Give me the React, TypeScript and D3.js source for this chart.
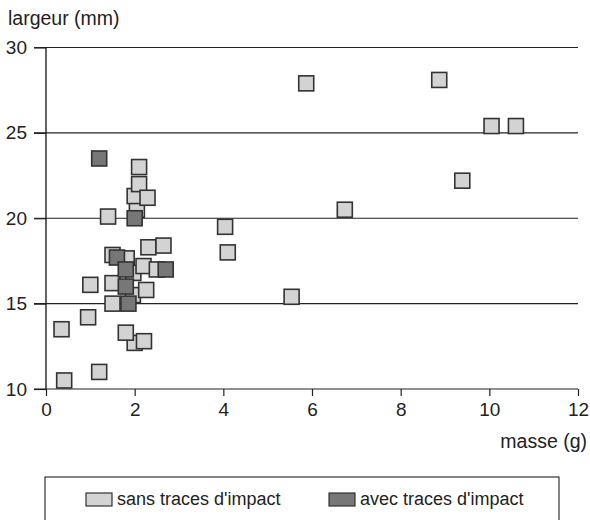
import { useRef, useEffect } from "react";
import * as d3 from "d3";

// sans traces d'impact (light squares), drawn in order: back to front
const sansMasse = [5.87, 8.87, 10.05, 10.6, 9.39, 6.74, 4.04, 4.1, 5.54,
  2.05, 2.0, 2.1, 2.29, 2.1, 1.4, 2.31, 2.65, 1.5, 1.82, 1.97, 2.2, 2.5,
  1.0, 1.5, 1.96, 2.26, 1.5, 0.95, 0.35, 2.0, 1.8, 2.21, 1.2, 0.41];
const sansLargeur = [27.9, 28.1, 25.4, 25.4, 22.2, 20.5, 19.5, 18.0, 15.4,
  20.5, 21.3, 22.0, 21.2, 23.0, 20.1, 18.3, 18.4, 17.85, 17.65, 16.8, 17.2, 17.0,
  16.1, 16.2, 15.5, 15.8, 15.0, 14.2, 13.5, 12.7, 13.3, 12.8, 11.0, 10.5];

// avec traces d'impact (dark squares)
const avecMasse = [1.2, 2.0, 1.6, 1.8, 2.7, 1.8, 1.86];
const avecLargeur = [23.5, 20.0, 17.7, 17.0, 17.0, 16.0, 15.0];

const xTicks = [0, 2, 4, 6, 8, 10, 12];
const yTicks = [10, 15, 20, 25, 30];
const legendLabels = ["sans traces d'impact", "avec traces d'impact"];

const FONT = "'Liberation Sans', Arial, sans-serif";
const LIGHT = "#d3d3d3";
const DARK = "#777777";
const INK = "#222";

export default function App() {
  const ref = useRef<SVGSVGElement>(null);
  useEffect(() => {
    if (!ref.current) return;
    const svg = d3.select(ref.current);
    svg.selectAll("*").remove();
    const x = d3.scaleLinear().domain([0, 12]).range([46, 578]);
    const y = d3.scaleLinear().domain([10, 30]).range([389, 47.5]);

    // horizontal grid lines (incl. the x axis at 10)
    svg.append("g").selectAll("line").data(yTicks).join("line")
      .attr("x1", 34).attr("x2", x(12)).attr("y1", d => y(d)).attr("y2", d => y(d))
      .attr("stroke", INK).attr("stroke-width", 1.2);

    // y axis
    const yAxis = svg.append("g").attr("transform", `translate(${x(0)},0)`)
      .call(d3.axisLeft(y).tickValues(yTicks).tickSize(12).tickPadding(7));
    yAxis.select(".domain").remove();
    yAxis.selectAll(".tick line").attr("stroke", INK).attr("stroke-width", 1.2);
    yAxis.selectAll("text").attr("fill", INK).attr("font-size", "19px").attr("font-family", FONT);

    // x axis
    const xAxis = svg.append("g").attr("transform", `translate(0,${y(10)})`)
      .call(d3.axisBottom(x).tickValues(xTicks).tickSize(7).tickPadding(7));
    xAxis.select(".domain").remove();
    xAxis.selectAll(".tick line").attr("stroke", INK).attr("stroke-width", 1.2);
    xAxis.selectAll("text").attr("fill", INK).attr("font-size", "19px").attr("font-family", FONT);

    // vertical axis line
    svg.append("line").attr("x1", x(0)).attr("x2", x(0)).attr("y1", y(30)).attr("y2", y(10))
      .attr("stroke", INK).attr("stroke-width", 1.4);

    // titles
    svg.append("text").attr("x", 8).attr("y", 25).text("largeur (mm)")
      .attr("fill", INK).attr("font-size", "19.5px").attr("font-family", FONT);
    svg.append("text").attr("x", 587).attr("y", 448).attr("text-anchor", "end").text("masse (g)")
      .attr("fill", INK).attr("font-size", "19.5px").attr("font-family", FONT);

    const s = 15;
    const sans = sansMasse.map((m, i) => ({ m, l: sansLargeur[i] }));
    const avec = avecMasse.map((m, i) => ({ m, l: avecLargeur[i] }));
    svg.append("g").selectAll("rect").data(sans).join("rect")
      .attr("x", d => x(d.m) - s / 2).attr("y", d => y(d.l) - s / 2)
      .attr("width", s).attr("height", s)
      .attr("fill", LIGHT).attr("stroke", "#333").attr("stroke-width", 1.6);
    svg.append("g").selectAll("rect").data(avec).join("rect")
      .attr("x", d => x(d.m) - s / 2).attr("y", d => y(d.l) - s / 2)
      .attr("width", s).attr("height", s)
      .attr("fill", DARK).attr("stroke", "#333").attr("stroke-width", 1.6);

    // legend
    svg.append("rect").attr("x", 45).attr("y", 477).attr("width", 514).attr("height", 70)
      .attr("fill", "none").attr("stroke", "#333").attr("stroke-width", 1.2);
    const lx = [86, 329];
    const lg = svg.append("g").selectAll("g").data(legendLabels).join("g")
      .attr("transform", (_, i) => `translate(${lx[i]},493)`);
    lg.append("rect").attr("width", 26).attr("height", 13)
      .attr("fill", (_, i) => (i === 0 ? LIGHT : DARK)).attr("stroke", "#333").attr("stroke-width", 1.2);
    lg.append("text").attr("x", 31).attr("y", 12).text(d => d)
      .attr("fill", INK).attr("font-size", "18px").attr("font-family", FONT);
  }, []);

  return (
    <svg ref={ref} width={590} height={520}
      style={{ position: "absolute", left: 0, top: 0, background: "#fff" }} />
  );
}
